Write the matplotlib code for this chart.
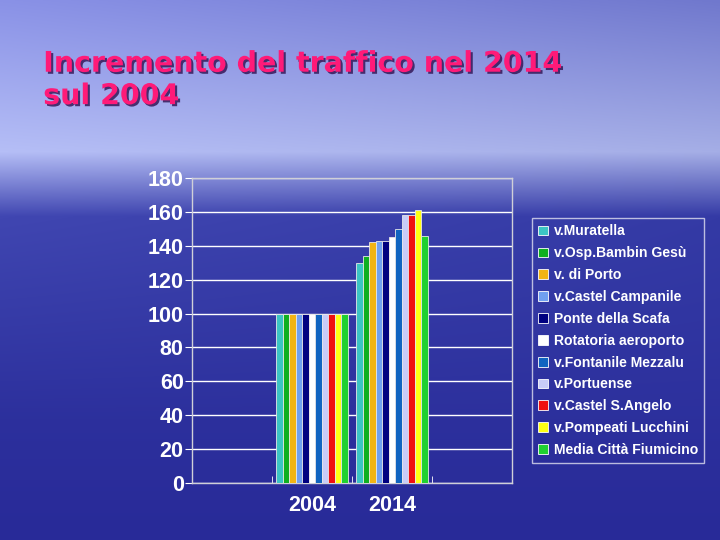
import numpy as np
import matplotlib.pyplot as plt
import matplotlib.patheffects as pe

# data
categories = ["", "2004", "2014", ""]
series_names = ["v.Muratella", "v.Osp.Bambin Gesù", "v. di Porto", "v.Castel Campanile",
                "Ponte della Scafa", "Rotatoria aeroporto", "v.Fontanile Mezzalu",
                "v.Portuense", "v.Castel S.Angelo", "v.Pompeati Lucchini",
                "Media Città Fiumicino"]
values_2004 = [100, 100, 100, 100, 100, 100, 100, 100, 100, 100, 100]
values_2014 = [130, 134, 142, 143, 143, 145, 150, 158, 158, 161, 146]
yticks = [0, 20, 40, 60, 80, 100, 120, 140, 160, 180]

COLORS = ["#3cc4c4", "#10b020", "#f2b414", "#70a0f0", "#000080", "#ffffff",
          "#1064c0", "#c8ccf8", "#f01010", "#ffff14", "#20d030"]

fig = plt.figure(figsize=(7.2, 5.4), dpi=100)

# background: sky over sea
bg = fig.add_axes([0, 0, 1, 1])
h, w = 540, 720
yy, xx = np.mgrid[0:h, 0:w] / np.array([h, w])[:, None, None]
top = np.array([112, 120, 205]) / 255
horizon = np.array([165, 174, 230]) / 255
sea = np.array([52, 58, 165]) / 255
deep = np.array([40, 42, 152]) / 255
t = yy[..., None]
sky = top + (horizon - top) * (t / 0.28)
water = horizon + (sea - horizon) * np.clip((t - 0.28) / 0.12, 0, 1)
water = water + (deep - sea) * np.clip((t - 0.4) / 0.6, 0, 1)
img = np.where(t < 0.28, sky, water)
img = img + 0.10 * (1 - xx[..., None]) * np.clip(1 - t * 1.3, 0, 1)
img = np.clip(img, 0, 1)
bg.imshow(img, aspect="auto", extent=[0, 1, 0, 1])
bg.set_axis_off()

# title
fig.text(0.06, 0.852, "Incremento del traffico nel 2014\nsul 2004",
         fontsize=20.5, fontweight="bold", color="#ff1a78", ha="left", va="center",
         linespacing=1.2, family="DejaVu Sans",
         path_effects=[pe.withSimplePatchShadow(offset=(1.5, -1.5),
                                                shadow_rgbFace="#301050", alpha=0.8)])

ax = fig.add_axes([0.2667, 0.1056, 0.4444, 0.5648])
ax.set_facecolor("none")
ax.set_xlim(0, 4)
ax.set_ylim(0, 180)

group_w = 0.9
n = len(series_names)
bw = group_w / n
for i, name in enumerate(series_names):
    xs = np.array([1.5, 2.5]) - group_w / 2 + bw * (i + 0.5)
    ax.bar(xs, [values_2004[i], values_2014[i]], width=bw, color=COLORS[i],
           edgecolor="#e8e8e8", linewidth=0.6, label=name, zorder=3)

ax.set_yticks(yticks)
ax.set_xticks([0.5, 1.5, 2.5, 3.5])
ax.set_xticklabels(categories)
ax.set_xticks([0, 1, 2, 3, 4], minor=True)
ax.tick_params(axis="x", which="major", length=0, pad=9)
ax.tick_params(axis="x", which="minor", length=5, color="white", direction="in")
ax.tick_params(axis="y", length=5, color="white", direction="out", pad=1)
for lab in ax.get_xticklabels() + ax.get_yticklabels():
    lab.set_fontsize(15.5)
    lab.set_fontweight("bold")
    lab.set_color("white")
    lab.set_family("Liberation Sans")
ax.yaxis.grid(True, color="white", linewidth=1.0, zorder=1)
for s in ax.spines.values():
    s.set_color("#d0d0d8")
    s.set_linewidth(1.0)

leg = fig.legend(loc="upper left", bbox_to_anchor=(0.739, 0.596), borderaxespad=0,
                 frameon=True, fancybox=False, handlelength=0.7, handleheight=0.7,
                 handletextpad=0.4, labelspacing=0.56, borderpad=0.45,
                 prop={"family": "Liberation Sans", "weight": "bold", "size": 10.1})
leg.get_frame().set_facecolor("none")
leg.get_frame().set_edgecolor("#e0e0f0")
for txt in leg.get_texts():
    txt.set_color("white")
for hd in leg.legend_handles:
    hd.set_edgecolor("white")

fig.savefig("out.png", dpi=100)
